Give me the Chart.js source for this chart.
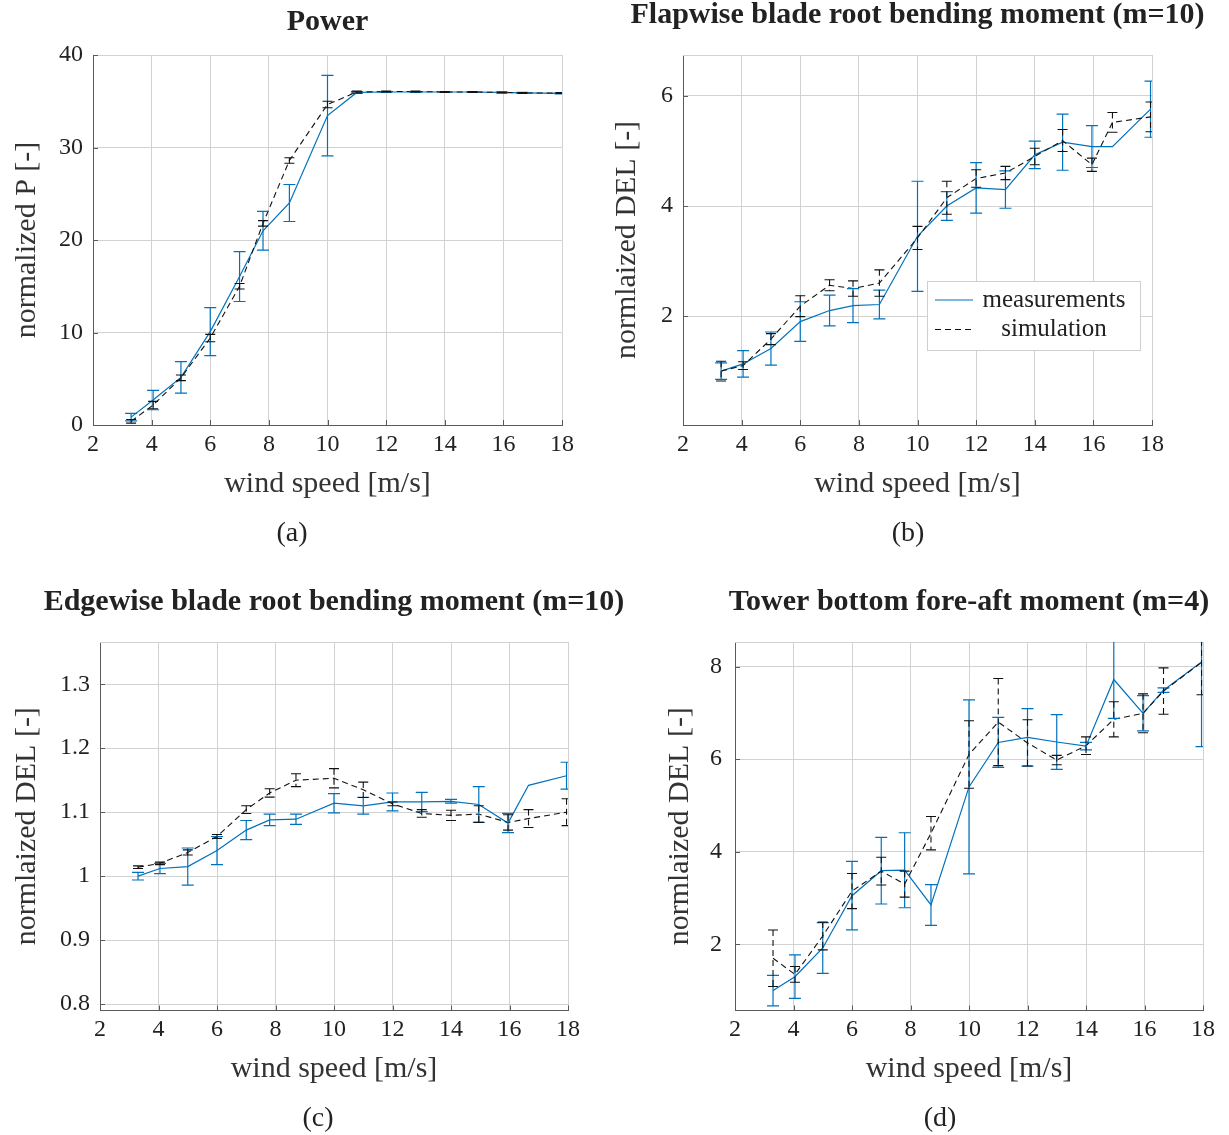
<!DOCTYPE html>
<html lang="en">
<head>
  <meta charset="UTF-8" />
  <title>Wind turbine measurements vs simulation</title>
  <script src="https://cdn.jsdelivr.net/npm/chart.js"></script>
  <style>
    body { margin: 0; background: white; width: 1229px; height: 1135px; position: relative; overflow: hidden; }
    canvas { position: absolute; }
  </style>
</head>
<body>
  <canvas id="chartA" width="640" height="550" style="left:0;top:0"></canvas>
  <canvas id="chartB" width="629" height="550" style="left:600px;top:0"></canvas>
  <canvas id="chartC" width="640" height="550" style="left:0;top:585px"></canvas>
  <canvas id="chartD" width="629" height="550" style="left:600px;top:585px"></canvas>

  <script>
    // wind speed bins (same for all four panels)
    const windSpeed = [3.3, 4.05, 5, 6, 7, 7.8, 8.7, 10, 11, 12, 13, 14, 14.95, 15.95, 16.65, 17.95];
    const xTicks = [2, 4, 6, 8, 10, 12, 14, 16, 18];

    // (a) power
    const powerMeas    = [0.85, 2.7, 5.15, 10.1, 16.05, 21.0, 24.0, 33.45, 35.95, 36.0, 36.0, 36.0, 36.0, 35.95, 35.9, 35.85];
    const powerMeasErr = [0.4, 1.05, 1.7, 2.6, 2.7, 2.1, 2.0, 4.35, 0.1, 0.05, 0.05, 0.05, 0.05, 0.05, 0.05, 0.05];
    const powerSim     = [0.4, 2.15, 5.1, 9.4, 15.0, 21.8, 28.6, 34.65, 36.0, 36.05, 36.05, 36.0, 36.0, 35.95, 35.9, 35.9];
    const powerSimErr  = [0.2, 0.4, 0.3, 0.4, 0.3, 0.3, 0.3, 0.35, 0.1, 0.05, 0.05, 0.05, 0.05, 0.05, 0.05, 0.05];
    const powerTicks   = [0, 10, 20, 30, 40];

    // (b) flapwise blade root bending moment
    const flapMeas    = [1.0, 1.13, 1.41, 1.9, 2.1, 2.19, 2.21, 3.45, 4.0, 4.33, 4.3, 4.93, 5.16, 5.08, 5.08, 5.76];
    const flapMeasErr = [0.15, 0.24, 0.3, 0.36, 0.28, 0.31, 0.26, 1.0, 0.26, 0.46, 0.34, 0.25, 0.51, 0.38, 0, 0.51];
    const flapSim     = [1.0, 1.1, 1.58, 2.18, 2.56, 2.5, 2.6, 3.42, 4.15, 4.5, 4.6, 4.9, 5.19, 4.75, 5.52, 5.62];
    const flapSimErr  = [0.18, 0.07, 0.1, 0.19, 0.1, 0.14, 0.24, 0.21, 0.3, 0.16, 0.12, 0.15, 0.2, 0.12, 0.18, 0.27];
    const flapTicks   = [2, 4, 6];

    // (c) edgewise blade root bending moment
    const edgeMeas    = [1.0, 1.012, 1.015, 1.04, 1.072, 1.088, 1.089, 1.114, 1.11, 1.116, 1.116, 1.117, 1.112, 1.083, 1.142, 1.157];
    const edgeMeasErr = [0.006, 0.008, 0.029, 0.022, 0.015, 0.009, 0.008, 0.015, 0.013, 0.014, 0.015, 0.003, 0.028, 0.015, 0, 0.021];
    const edgeSim     = [1.014, 1.02, 1.037, 1.062, 1.104, 1.13, 1.15, 1.153, 1.135, 1.113, 1.098, 1.095, 1.097, 1.084, 1.09, 1.1];
    const edgeSimErr  = [0.002, 0.002, 0.004, 0.003, 0.006, 0.0065, 0.01, 0.015, 0.012, 0.003, 0.006, 0.008, 0.013, 0.012, 0.014, 0.021];
    const edgeTicks   = [0.8, 0.9, 1.0, 1.1, 1.2, 1.3];

    // (d) tower bottom fore-aft moment
    const towerMeas    = [1.0, 1.3, 1.92, 3.05, 3.59, 3.6, 2.85, 5.4, 6.36, 6.47, 6.37, 6.28, 7.72, 6.99, 7.49, 8.1];
    const towerMeasErr = [0.33, 0.47, 0.55, 0.74, 0.72, 0.81, 0.44, 1.88, 0.54, 0.62, 0.59, 0.08, 0.84, 0.38, 0.05, 1.83];
    const towerSim     = [1.7, 1.35, 2.18, 3.15, 3.58, 3.3, 4.4, 6.1, 6.8, 6.35, 5.98, 6.29, 6.86, 6.99, 7.47, 8.09];
    const towerSimErr  = [0.61, 0.17, 0.3, 0.38, 0.3, 0.28, 0.36, 0.73, 0.94, 0.5, 0.1, 0.19, 0.38, 0.42, 0.5, 0.7];
    const towerTicks   = [2, 4, 6, 8];

    const BLUE = '#0072BD';
    const GRID = '#d2d2d2';
    const AXIS = '#5a5a5a';
    const TEXT = '#222';
    const SERIF = '"Liberation Serif", "DejaVu Serif", serif';

    // error bars, inner ticks, titles, captions and the legend
    const decor = {
      id: 'decor',
      afterDatasetsDraw(chart, args, opts) {
        const {ctx, chartArea: a, scales: {x, y}} = chart;
        ctx.save();
        // top border of the box
        ctx.strokeStyle = GRID; ctx.lineWidth = 1;
        ctx.beginPath(); ctx.moveTo(a.left, a.top + 0.5); ctx.lineTo(a.right, a.top + 0.5); ctx.stroke();
        ctx.beginPath(); ctx.rect(a.left, a.top, a.width, a.height); ctx.clip();
        chart.data.datasets.forEach(ds => {
          ctx.strokeStyle = ds.borderColor;
          ctx.lineWidth = ds.borderWidth;
          const cap = ds.capSize;
          ds.data.forEach((p, i) => {
            const e = ds.errors[i];
            if (!e) return;
            const px = x.getPixelForValue(p.x);
            const y1 = y.getPixelForValue(p.y + e);
            const y2 = y.getPixelForValue(p.y - e);
            ctx.setLineDash(ds.borderDash || []);
            ctx.beginPath(); ctx.moveTo(px, y1); ctx.lineTo(px, y2); ctx.stroke();
            ctx.setLineDash([]);
            ctx.beginPath();
            ctx.moveTo(px - cap, y1); ctx.lineTo(px + cap, y1);
            ctx.moveTo(px - cap, y2); ctx.lineTo(px + cap, y2);
            ctx.stroke();
          });
        });
        ctx.restore();

        // tick marks pointing inwards
        ctx.save();
        ctx.strokeStyle = AXIS; ctx.lineWidth = 1;
        ctx.beginPath();
        y.ticks.forEach(t => {
          const py = Math.round(y.getPixelForValue(t.value)) + 0.5;
          ctx.moveTo(a.left, py); ctx.lineTo(a.left + 5, py);
        });
        x.ticks.forEach(t => {
          const px = Math.round(x.getPixelForValue(t.value)) + 0.5;
          ctx.moveTo(px, a.bottom); ctx.lineTo(px, a.bottom - 5);
        });
        ctx.stroke();
        ctx.restore();
      },
      afterDraw(chart, args, opts) {
        const {ctx, chartArea: a} = chart;
        ctx.save();
        ctx.fillStyle = TEXT;
        ctx.textAlign = 'center';
        ctx.textBaseline = 'middle';
        ctx.font = 'bold 30px ' + SERIF;
        ctx.fillText(opts.title, (a.left + a.right) / 2, opts.titleY);
        ctx.font = '28px ' + SERIF;
        ctx.fillText(opts.caption, opts.captionX, 534);

        if (opts.legend) {
          const L = opts.legend;
          ctx.fillStyle = 'white';
          ctx.fillRect(L.x, L.y, L.w, L.h);
          ctx.strokeStyle = '#cfcfcf'; ctx.lineWidth = 1;
          ctx.strokeRect(L.x + 0.5, L.y + 0.5, L.w, L.h);
          ctx.font = '25px ' + SERIF;
          chart.data.datasets.forEach((ds, i) => {
            const ly = L.y + 19 + i * 29.5;
            ctx.strokeStyle = ds.borderColor;
            ctx.lineWidth = ds.borderWidth;
            ctx.setLineDash(ds.borderDash || []);
            ctx.beginPath(); ctx.moveTo(L.x + 8, ly); ctx.lineTo(L.x + 46, ly); ctx.stroke();
            ctx.setLineDash([]);
            ctx.fillStyle = TEXT;
            ctx.fillText(ds.label, L.x + 127, ly);
          });
        }
        ctx.restore();
      }
    };

    function pts(ys) {
      return windSpeed.map((w, i) => ({x: w, y: ys[i]}));
    }

    function makeChart(id, p) {
      const tickFont = {family: SERIF, size: 24};
      const titleFont = {family: SERIF, size: 30};
      return new Chart(document.getElementById(id), {
        type: 'scatter',
        data: {
          datasets: [
            { label: 'measurements', data: pts(p.meas), errors: p.measErr, capSize: 6,
              borderColor: BLUE, borderWidth: 1.2, showLine: true, pointRadius: 0, order: 1 },
            { label: 'simulation', data: pts(p.sim), errors: p.simErr, capSize: 5,
              borderColor: '#111', borderWidth: 1.1, borderDash: [6, 4], showLine: true, pointRadius: 0, order: 0 }
          ]
        },
        plugins: [decor],
        options: {
          responsive: false,
          animation: false,
          layout: { padding: { top: p.top, left: 0, right: p.right, bottom: p.bottom } },
          plugins: {
            legend: { display: false },
            tooltip: { enabled: false },
            decor: { title: p.title, titleY: p.titleY, caption: p.caption, captionX: p.captionX, legend: p.legend }
          },
          scales: {
            x: {
              type: 'linear', min: 2, max: 18,
              afterBuildTicks: s => { s.ticks = xTicks.map(v => ({value: v})); },
              afterFit: s => { s.height = 80; },
              grid: { color: GRID, drawTicks: false },
              border: { color: AXIS, width: 1 },
              ticks: { font: tickFont, color: TEXT, padding: 5, maxRotation: 0 },
              title: { display: true, text: 'wind speed [m/s]', font: titleFont, color: '#333',
                       padding: { top: 0, bottom: 3 } }
            },
            y: {
              type: 'linear', min: p.yMin, max: p.yMax,
              afterBuildTicks: s => { s.ticks = p.yTicks.map(v => ({value: v})); },
              afterFit: s => { s.width = p.yWidth; },
              grid: { color: GRID, drawTicks: false },
              border: { color: AXIS, width: 1 },
              ticks: { font: tickFont, color: TEXT, padding: p.yPad,
                       callback: v => String(Math.round(v * 10) / 10) },
              title: { display: true, text: p.yTitle, font: titleFont, color: '#333',
                       padding: { top: p.yTitleX - 18, bottom: 0 } }
            }
          }
        }
      });
    }

    makeChart('chartA', {
      meas: powerMeas, measErr: powerMeasErr, sim: powerSim, simErr: powerSimErr,
      yMin: 0, yMax: 40, yTicks: powerTicks, yTitle: 'normalized P [-]',
      title: 'Power', titleY: 22, caption: '(a)', captionX: 292,
      top: 55, right: 78, bottom: 45, yWidth: 93, yPad: 10, yTitleX: 27
    });
    makeChart('chartB', {
      meas: flapMeas, measErr: flapMeasErr, sim: flapSim, simErr: flapSimErr,
      yMin: 0.02, yMax: 6.745, yTicks: flapTicks, yTitle: 'normlaized DEL [-]',
      title: 'Flapwise blade root bending moment (m=10)', titleY: 15.5, caption: '(b)', captionX: 308,
      top: 55, right: 77, bottom: 45, yWidth: 83, yPad: 10, yTitleX: 27,
      legend: { x: 327, y: 281, w: 213, h: 69 }
    });
    makeChart('chartC', {
      meas: edgeMeas, measErr: edgeMeasErr, sim: edgeSim, simErr: edgeSimErr,
      yMin: 0.79, yMax: 1.366, yTicks: edgeTicks, yTitle: 'normlaized DEL [-]',
      title: 'Edgewise blade root bending moment (m=10)', titleY: 17.5, caption: '(c)', captionX: 318,
      top: 57, right: 72, bottom: 44.5, yWidth: 100, yPad: 10, yTitleX: 27
    });
    makeChart('chartD', {
      meas: towerMeas, measErr: towerMeasErr, sim: towerSim, simErr: towerSimErr,
      yMin: 0.57, yMax: 8.53, yTicks: towerTicks, yTitle: 'normlaized DEL [-]',
      title: 'Tower bottom fore-aft moment (m=4)', titleY: 17.5, caption: '(d)', captionX: 340,
      top: 57, right: 26, bottom: 44.5, yWidth: 135, yPad: 13, yTitleX: 80
    });
  </script>
</body>
</html>
